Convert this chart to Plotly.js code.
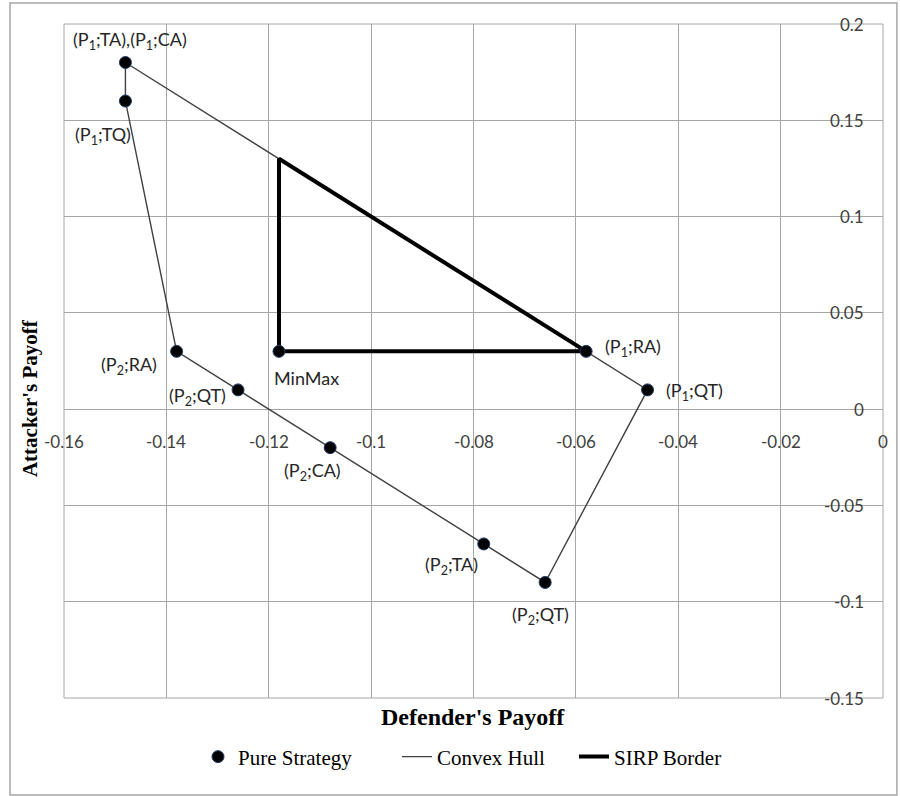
<!DOCTYPE html>
<html>
<head>
<meta charset="utf-8">
<script src="https://cdn.plot.ly/plotly-3.0.1.min.js"></script>
<style>html,body{margin:0;padding:0;background:#fff;}#chart{width:900px;height:796px;}</style>
</head>
<body>
<div id="chart"></div>
<script>
// ---- data ----
const strategyLabels = ['(P<sub>1</sub>;TA),(P<sub>1</sub>;CA)', '(P<sub>1</sub>;TQ)', '(P<sub>2</sub>;RA)', '(P<sub>2</sub>;QT)', '(P<sub>2</sub>;CA)', '(P<sub>2</sub>;TA)', '(P<sub>2</sub>;QT)', '(P<sub>1</sub>;QT)', '(P<sub>1</sub>;RA)'];
const defenderPayoff = [-0.148, -0.148, -0.138, -0.126, -0.108, -0.078, -0.066, -0.046, -0.058];
const attackerPayoff = [0.18, 0.16, 0.03, 0.01, -0.02, -0.07, -0.09, 0.01, 0.03];
const hullOrder = [0, 8, 7, 6, 5, 4, 3, 2, 1, 0];
const minMaxLabel = 'MinMax';
const minMaxDefender = [-0.118];
const minMaxAttacker = [0.03];
const sirpDefender = [-0.118, -0.118, -0.058, -0.118];
const sirpAttacker = [0.03, 0.13, 0.03, 0.03];
const xTickVals = [-0.16, -0.14, -0.12, -0.1, -0.08, -0.06, -0.04, -0.02, 0];
const xTickText = ['-0.16', '-0.14', '-0.12', '-0.1', '-0.08', '-0.06', '-0.04', '-0.02', '0'];
const yTickVals = [-0.15, -0.1, -0.05, 0, 0.05, 0.1, 0.15, 0.2];
const yTickText = ['-0.15', '-0.1', '-0.05', '0', '0.05', '0.1', '0.15', '0.2'];

// ---- label placement (pixel offsets, style only) ----
const labelShift = [[5, -22], [-22, 34], [-48, 14], [-41, 7], [-18, 24], [-32, 22], [-5, 33], [47, 2], [47, -4]];
const minMaxShift = [28, 27];

const hullX = hullOrder.map(i => defenderPayoff[i]);
const hullY = hullOrder.map(i => attackerPayoff[i]);

const markerStyle = {size: 12, color: '#000000', line: {color: '#1f3b66', width: 1}};

const traces = [
  {x: hullX, y: hullY, type: 'scatter', mode: 'lines', name: 'Convex Hull', legend: 'legend2',
   line: {color: '#404040', width: 1.4}, hoverinfo: 'skip'},
  {x: sirpDefender, y: sirpAttacker, type: 'scatter', mode: 'lines', name: 'SIRP Border', legend: 'legend3',
   line: {color: '#000000', width: 4}, hoverinfo: 'skip'},
  {x: defenderPayoff, y: attackerPayoff, type: 'scatter', mode: 'markers', name: 'Pure Strategy', legend: 'legend',
   marker: markerStyle},
  {x: minMaxDefender, y: minMaxAttacker, type: 'scatter', mode: 'markers', name: minMaxLabel,
   marker: markerStyle, showlegend: false}
];

const labelFont = {family: 'Lato, "Open Sans", sans-serif', size: 18, color: '#262626'};
const tickFont = {family: 'Lato, "Open Sans", sans-serif', size: 17, color: '#404040'};
const annotations = strategyLabels.map((t, i) => ({
  x: defenderPayoff[i], y: attackerPayoff[i], xref: 'x', yref: 'y', text: t,
  showarrow: false, xshift: labelShift[i][0], yshift: -labelShift[i][1], font: labelFont
}));
annotations.push({x: minMaxDefender[0], y: minMaxAttacker[0], xref: 'x', yref: 'y', text: minMaxLabel,
  showarrow: false, xshift: minMaxShift[0], yshift: -minMaxShift[1], font: labelFont});
// tick labels (drawn as annotations so that the end labels are not clipped)
xTickVals.forEach((v, i) => annotations.push({x: v, y: 0, xref: 'x', yref: 'y', text: xTickText[i],
  showarrow: false, xanchor: 'center', yanchor: 'middle', yshift: -32, font: tickFont}));
yTickVals.forEach((v, i) => annotations.push({x: 0, y: v, xref: 'x', yref: 'y', text: yTickText[i],
  showarrow: false, xanchor: 'right', yanchor: 'middle', xshift: -17, font: tickFont}));
annotations.push({xref: 'paper', yref: 'paper', x: -0.0415, y: 0.445, xanchor: 'center', yanchor: 'middle',
  text: "Attacker's Payoff", textangle: -90, showarrow: false,
  font: {family: '"Liberation Serif", "Times New Roman", serif', size: 21, color: '#000', weight: 'bold'}});
annotations.push({xref: 'paper', yref: 'paper', x: 0.4994, y: -0.0282, xanchor: 'center', yanchor: 'middle',
  text: "Defender's Payoff", showarrow: false,
  font: {family: '"Liberation Serif", "Times New Roman", serif', size: 24, color: '#000', weight: 'bold'}});

const gridColor = '#a6a6a6';
const legendFont = {family: '"Liberation Serif", "Times New Roman", serif', size: 21, color: '#000'};
const legendAt = px => ({orientation: 'h', x: (px - 64) / 819, xanchor: 'left', y: -0.0875, yanchor: 'middle',
  font: legendFont, itemwidth: 30, bgcolor: 'rgba(0,0,0,0)'});

const layout = {
  width: 900, height: 796,
  margin: {l: 64, r: 17, t: 24, b: 98, autoexpand: false},
  paper_bgcolor: '#ffffff', plot_bgcolor: '#ffffff',
  showlegend: true,
  legend: legendAt(198),
  legend2: legendAt(397),
  legend3: legendAt(574),
  xaxis: {range: [-0.16, 0], tickvals: xTickVals, showticklabels: false, showgrid: true,
    gridcolor: gridColor, gridwidth: 1, zeroline: false, showline: false, ticks: '', fixedrange: true},
  yaxis: {range: [-0.15, 0.2], tickvals: yTickVals, showticklabels: false, showgrid: true,
    gridcolor: gridColor, gridwidth: 1, zeroline: false, showline: false, ticks: '', fixedrange: true},
  shapes: [
    {type: 'rect', xref: 'paper', yref: 'paper', x0: 0, x1: 1, y0: 0, y1: 1, line: {color: gridColor, width: 1}},
    {type: 'rect', xref: 'paper', yref: 'paper', x0: -0.0659, x1: 1.017, y0: -0.1439, y1: 1.0312, line: {color: '#a6a6a6', width: 1.5}}
  ],
  annotations: annotations
};

Plotly.newPlot('chart', traces, layout, {displayModeBar: false, staticPlot: true});
</script>
</body>
</html>
